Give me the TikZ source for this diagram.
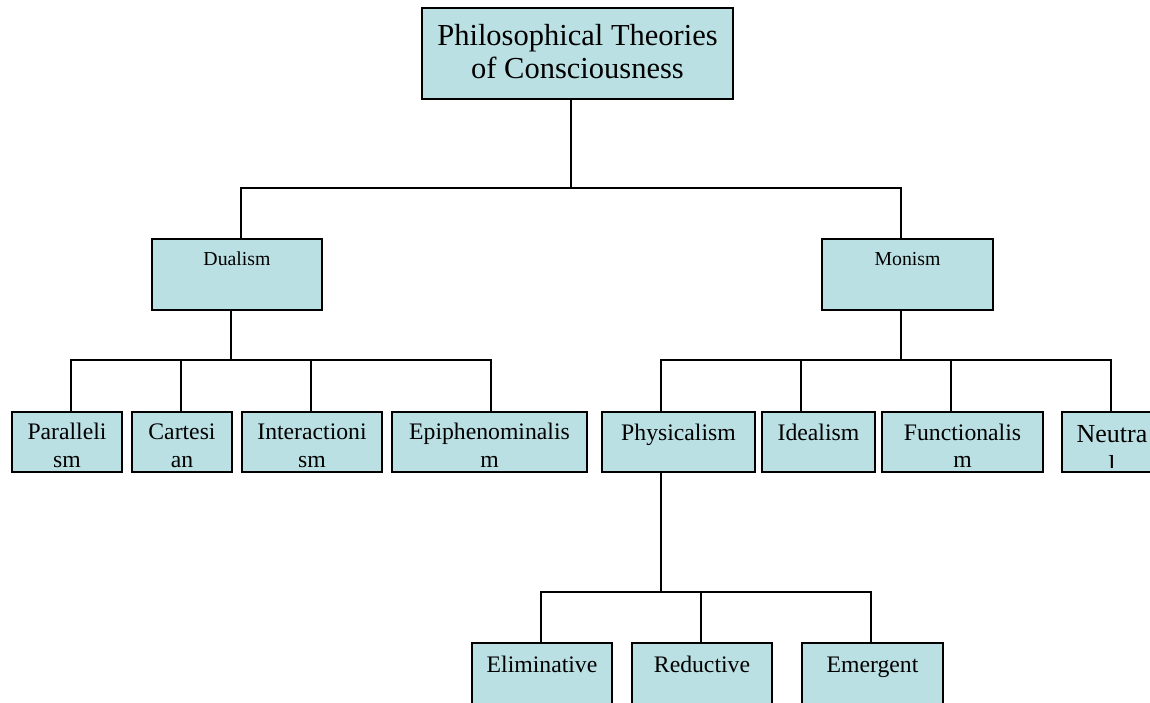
\documentclass[tikz,border=0pt]{standalone}
\usepackage{fontspec}
\setmainfont{Liberation Serif}
\definecolor{orgteal}{HTML}{BBE0E3}
\tikzset{
  orgbox/.style = {draw=black, fill=orgteal, line width=2pt, inner sep=0pt, anchor=north west},
  link/.style = {line width=1.8pt},
  lbl/.style = {anchor=base, inner sep=0pt, font=\fontsize{23.7}{28.5}\selectfont},
  midlbl/.style = {anchor=base, inner sep=0pt, font=\fontsize{19.8}{24}\selectfont},
  toplbl/.style = {anchor=base, inner sep=0pt, font=\fontsize{30.5}{33}\selectfont}
}
\begin{document}
\begin{tikzpicture}[x=1pt, y=-1pt]
    \useasboundingbox (0,0) rectangle (1150,702);
    \clip (0,0) rectangle (1150,702);
    % boxes
    \node[orgbox, minimum width=311pt, minimum height=91pt] (root) at (421,7) {};
    \node[orgbox, minimum width=170pt, minimum height=71pt] (dual) at (151,238) {};
    \node[orgbox, minimum width=171pt, minimum height=71pt] (mono) at (821,238) {};
    \node[orgbox, minimum width=110pt, minimum height=60pt] (para) at (11,411) {};
    \node[orgbox, minimum width=100pt, minimum height=60pt] (cart) at (131,411) {};
    \node[orgbox, minimum width=140pt, minimum height=60pt] (inter) at (241,411) {};
    \node[orgbox, minimum width=195pt, minimum height=60pt] (epi) at (391,411) {};
    \node[orgbox, minimum width=153pt, minimum height=60pt] (phys) at (601,411) {};
    \node[orgbox, minimum width=113pt, minimum height=60pt] (ideal) at (761,411) {};
    \node[orgbox, minimum width=161pt, minimum height=60pt] (func) at (881,411) {};
    \node[orgbox, minimum width=100pt, minimum height=60pt] (neut) at (1061,411) {};
    \node[orgbox, minimum width=140pt, minimum height=62pt] (elim) at (471,642) {};
    \node[orgbox, minimum width=140pt, minimum height=62pt] (redu) at (631,642) {};
    \node[orgbox, minimum width=141pt, minimum height=62pt] (emer) at (801,642) {};
    % labels
    \node[toplbl] (rootA) at ([yshift=-38.5pt]root.north) {Philosophical Theories};
    \node[toplbl] (rootB) at ([yshift=-71.5pt]root.north) {of Consciousness};
    \node[midlbl] (dualA) at ([yshift=-27pt]dual.north) {Dualism};
    \node[midlbl] (monoA) at ([yshift=-27pt]mono.north) {Monism};
    \begin{scope}
        \clip (para.north west) rectangle ([yshift=5.5pt]para.south east)
              (cart.north west) rectangle ([yshift=5.5pt]cart.south east)
              (inter.north west) rectangle ([yshift=5.5pt]inter.south east)
              (epi.north west) rectangle ([yshift=5.5pt]epi.south east)
              (func.north west) rectangle ([yshift=5.5pt]func.south east)
              (neut.north west) rectangle ([yshift=5.5pt]neut.south east);
        \node[lbl] (paraA) at ([yshift=-28.5pt]para.north) {Paralleli};
        \node[lbl] (paraB) at ([yshift=-56.5pt]para.north) {sm};
        \node[lbl] (cartA) at ([yshift=-28.5pt]cart.north) {Cartesi};
        \node[lbl] (cartB) at ([yshift=-56.5pt]cart.north) {an};
        \node[lbl] (interA) at ([yshift=-28.5pt]inter.north) {Interactioni};
        \node[lbl] (interB) at ([yshift=-56.5pt]inter.north) {sm};
        \node[lbl] (epiA) at ([yshift=-28.5pt]epi.north) {Epiphenominalis};
        \node[lbl] (epiB) at ([yshift=-56.5pt]epi.north) {m};
        \node[lbl] (funcA) at ([yshift=-29pt]func.north) {Functionalis};
        \node[lbl] (funcB) at ([yshift=-56.5pt]func.north) {m};
        \node[lbl, font=\fontsize{26}{31}\selectfont] (neutA) at ([yshift=-31pt]neut.north) {Neutra};
        \node[lbl, font=\fontsize{26}{31}\selectfont] (neutB) at ([yshift=-62pt]neut.north) {l};
    \end{scope}
    \node[lbl] (physA) at ([yshift=-29pt]phys.north) {Physicalism};
    \node[lbl] (idealA) at ([yshift=-29pt]ideal.north) {Idealism};
    \node[lbl] (elimA) at ([yshift=-30pt]elim.north) {Eliminative};
    \node[lbl] (reduA) at ([yshift=-30pt]redu.north) {Reductive};
    \node[lbl] (emerA) at ([yshift=-30pt]emer.north) {Emergent};
    % connectors
    \coordinate (rootJ) at (571,188);
    \coordinate (dualJ) at (241,188);
    \coordinate (monoJ) at (901,188);
    \draw[link] (rootJ |- root.south) -- (rootJ);
    \draw[link] (dualJ |- dual.north) -- (dualJ) -- (monoJ) -- (monoJ |- mono.north);
    \coordinate (dualK) at (231,360);
    \coordinate (paraJ) at (71,360);
    \coordinate (cartJ) at (181,360);
    \coordinate (interJ) at (311,360);
    \coordinate (epiJ) at (491,360);
    \draw[link] (dualK |- dual.south) -- (dualK);
    \draw[link] (paraJ |- para.north) -- (paraJ) -- (epiJ) -- (epiJ |- epi.north);
    \draw[link] (cartJ) -- (cartJ |- cart.north);
    \draw[link] (interJ) -- (interJ |- inter.north);
    \coordinate (monoK) at (901,360);
    \coordinate (physJ) at (661,360);
    \coordinate (idealJ) at (801,360);
    \coordinate (funcJ) at (951,360);
    \coordinate (neutJ) at (1111,360);
    \draw[link] (monoK |- mono.south) -- (monoK);
    \draw[link] (physJ |- phys.north) -- (physJ) -- (neutJ) -- (neutJ |- neut.north);
    \draw[link] (idealJ) -- (idealJ |- ideal.north);
    \draw[link] (funcJ) -- (funcJ |- func.north);
    \coordinate (physK) at (661,592);
    \coordinate (elimJ) at (541,592);
    \coordinate (reduJ) at (701,592);
    \coordinate (emerJ) at (871,592);
    \draw[link] (physK |- phys.south) -- (physK);
    \draw[link] (elimJ |- elim.north) -- (elimJ) -- (emerJ) -- (emerJ |- emer.north);
    \draw[link] (reduJ) -- (reduJ |- redu.north);
\end{tikzpicture}
\end{document}
